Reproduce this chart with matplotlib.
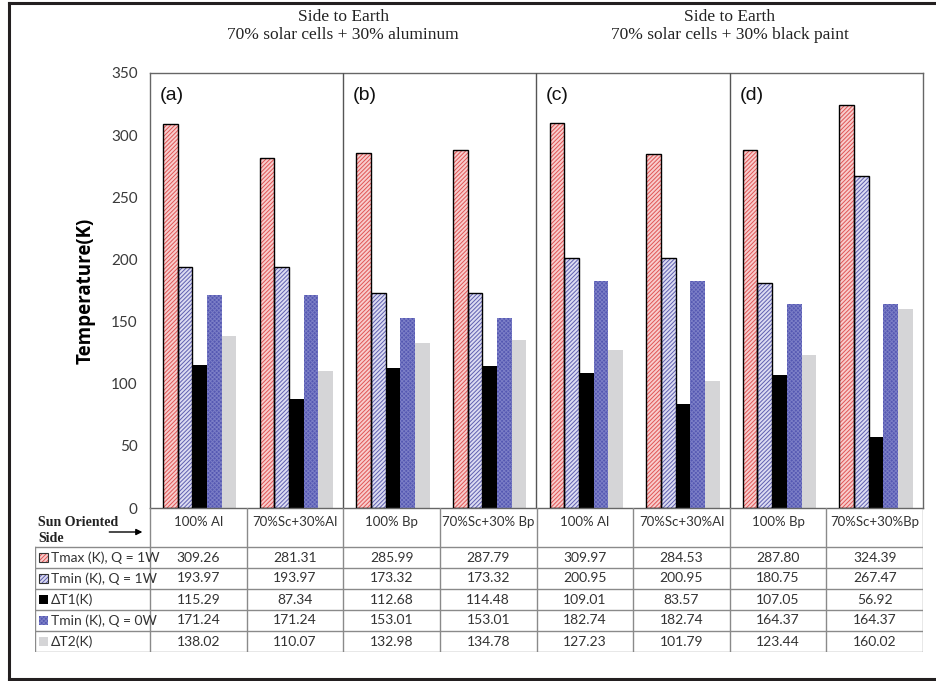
import numpy as np
import matplotlib
matplotlib.use('Agg')
import matplotlib.pyplot as plt
from matplotlib.patches import Rectangle
from matplotlib import transforms

# ---------------------------------------------------------------------------
# Data
# ---------------------------------------------------------------------------
categories = ['100% Al', '70%Sc+30%Al', '100% Bp', '70%Sc+30% Bp',
              '100% Al', '70%Sc+30%Al', '100% Bp', '70%Sc+30%Bp']
series_names = ['Tmax (K), Q = 1W', 'Tmin (K), Q = 1W', 'ΔT1(K)',
                'Tmin (K), Q = 0W', 'ΔT2(K)']
tmax_q1 = [309.26, 281.31, 285.99, 287.79, 309.97, 284.53, 287.80, 324.39]
tmin_q1 = [193.97, 193.97, 173.32, 173.32, 200.95, 200.95, 180.75, 267.47]
dt1 = [115.29, 87.34, 112.68, 114.48, 109.01, 83.57, 107.05, 56.92]
tmin_q0 = [171.24, 171.24, 153.01, 153.01, 182.74, 182.74, 164.37, 164.37]
dt2 = [138.02, 110.07, 132.98, 134.78, 127.23, 101.79, 123.44, 160.02]
series = [tmax_q1, tmin_q1, dt1, tmin_q0, dt2]

panel_labels = ['(a)', '(b)', '(c)', '(d)']
group_titles = ['Side to Earth\n70% solar cells + 30% aluminum',
                'Side to Earth\n70% solar cells + 30% black paint']

# style per series: face, hatch colour, hatch, black outline
styles = [
    dict(face='#F8CDCD', hc='#E05555', hatch='////////', edge=True),
    dict(face='#DCDCF2', hc='#5F5FB0', hatch='////////', edge=True),
    dict(face='#000000', hc='#000000', hatch=None, edge=False),
    dict(face='#5558B2', hc='#7B7EC6', hatch='xxxxxxxx', edge=False),
    dict(face='#D5D5D7', hc='#D5D5D7', hatch=None, edge=False),
]

plt.rcParams['font.family'] = ['Lato', 'DejaVu Sans']
plt.rcParams['hatch.linewidth'] = 0.7

W, H = 937, 681
fig = plt.figure(figsize=(W / 100, H / 100), dpi=100)

# pixel layout
px_left, px_right, px_top, px_bot = 150, 923, 73, 508
tbl_left, tbl_bot = 35, 652

ax = fig.add_axes([px_left / W, (H - px_bot) / H,
                   (px_right - px_left) / W, (px_bot - px_top) / H])

n = len(categories)
x = np.arange(n)
bw = 0.152
for k, (vals, st) in enumerate(zip(series, styles)):
    pos = x + (k - 2) * bw + 0.015
    ax.bar(pos, vals, width=bw, color=st['face'], edgecolor=st['hc'],
           hatch=st['hatch'], linewidth=0, zorder=2)
    if st['edge']:
        ax.bar(pos, vals, width=bw, fill=False, edgecolor='black',
               linewidth=1.0, zorder=3)

ax.set_xlim(-0.5, n - 0.5)
ax.set_ylim(0, 350)
ax.set_yticks(np.arange(0, 351, 50))
ax.set_xticks([])
ax.tick_params(axis='y', length=0, pad=9, labelsize=11, labelcolor='#3A3A3A')
for s in ax.spines.values():
    s.set_color('#666666')
    s.set_linewidth(1.0)

# panel dividers and letters
for b in [1.5, 3.5, 5.5]:
    ax.axvline(b, color='#555555', lw=1.0, zorder=4)
for i, lab in enumerate(panel_labels):
    ax.text(2 * i - 0.5 + 0.1, 332, lab, fontsize=14,
            family=['Liberation Sans'], va='center', ha='left', color='#111111')

ax.set_ylabel('Temperature(K)', fontsize=13.5, fontweight='bold',
              family=['Open Sans', 'DejaVu Sans'], labelpad=11)

# group titles above the panels
trans = transforms.blended_transform_factory(ax.transData, fig.transFigure)
for cx, title in zip([1.5, 5.5], group_titles):
    ax.text(cx, 1 - 26 / H, title, transform=trans, ha='center', va='center',
            fontsize=12.5, family=['Liberation Serif'], color='#222222',
            linespacing=1.2)

# ---------------------------------------------------------------------------
# Data table below the chart
# ---------------------------------------------------------------------------
unit = (px_right - px_left) / n
x0 = -0.5 - (px_left - tbl_left) / unit
tax = fig.add_axes([tbl_left / W, (H - tbl_bot) / H,
                    (px_right - tbl_left) / W, (tbl_bot - px_bot) / H])
tax.set_xlim(x0, n - 0.5)
tax.set_ylim(tbl_bot - px_bot, 0)
tax.axis('off')

grid_c = '#8A8A8A'
head_h, row_h = 39, 21
row_edges = [head_h + i * row_h for i in range(len(series) + 1)]
for y in row_edges:
    tax.plot([x0, n - 0.5], [y, y], color=grid_c, lw=1.0)
for k in range(n + 1):
    tax.plot([k - 0.5, k - 0.5], [0, row_edges[-1]], color=grid_c, lw=1.0)
tax.plot([x0, x0], [head_h, row_edges[-1]], color=grid_c, lw=1.0)

for i, c in enumerate(categories):
    tax.text(i, 14, c, ha='center', va='center', fontsize=9.5, color='#333333')

tax.text(x0 + 0.03, 14, 'Sun Oriented', ha='left', va='center', fontsize=10,
         fontweight='bold', family=['Liberation Serif'], color='#222222')
tax.text(x0 + 0.03, 31, 'Side', ha='left', va='center', fontsize=10,
         fontweight='bold', family=['Liberation Serif'], color='#222222')
tax.annotate('', xy=(-0.55, 24), xytext=(x0 + 0.74, 24),
             arrowprops=dict(arrowstyle='-|>', color='black', lw=1.0,
                             mutation_scale=9))

sw = 9 / unit
for r, (name, vals, st) in enumerate(zip(series_names, series, styles)):
    yc = head_h + r * row_h + row_h / 2
    tax.add_patch(Rectangle((x0 + 0.04, yc - 4.5), sw, 9, facecolor=st['face'],
                            edgecolor=st['hc'], hatch=st['hatch'], lw=0))
    if st['edge']:
        tax.add_patch(Rectangle((x0 + 0.04, yc - 4.5), sw, 9, fill=False,
                                edgecolor='#333333', lw=0.8))
    tax.text(x0 + 0.04 + sw + 0.03, yc, name, ha='left', va='center',
             fontsize=10, color='#333333')
    for i, v in enumerate(vals):
        tax.text(i, yc, f'{v:.2f}', ha='center', va='center', fontsize=10,
                 color='#333333')

# outer frame (left, top, bottom)
fig.add_artist(plt.Line2D([9 / W, 9 / W], [1 - 3 / H, 1 - 679 / H],
                          transform=fig.transFigure, color='#231F20', lw=2.2))
fig.add_artist(plt.Line2D([9 / W, 1], [1 - 3 / H, 1 - 3 / H],
                          transform=fig.transFigure, color='#231F20', lw=2.2))
fig.add_artist(plt.Line2D([9 / W, 1], [1 - 679 / H, 1 - 679 / H],
                          transform=fig.transFigure, color='#231F20', lw=2.2))

fig.savefig('out.png', dpi=100, facecolor='white')
